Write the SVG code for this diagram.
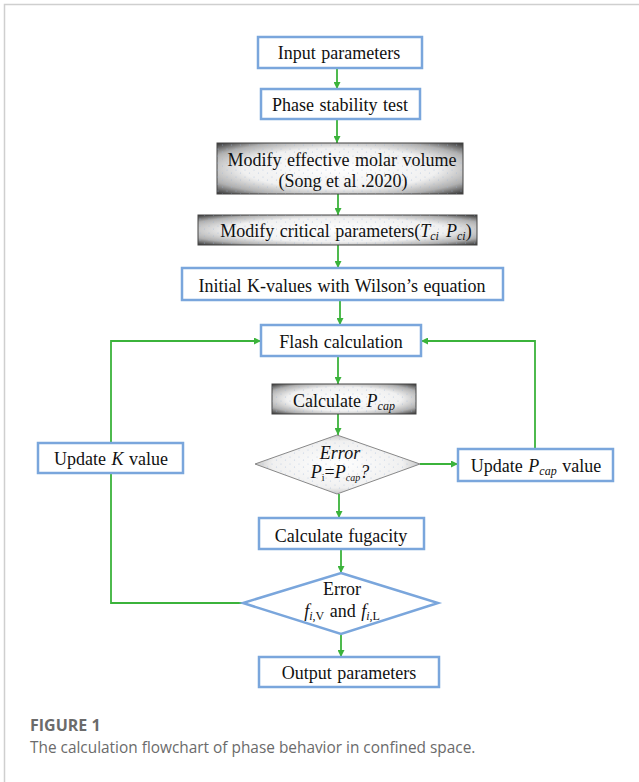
<svg xmlns="http://www.w3.org/2000/svg" width="639" height="782" viewBox="0 0 639 782">
<style>
.box{fill:#fff;stroke:#7aa6dc;stroke-width:2.5}
.gbox{fill:url(#gg);stroke:#444;stroke-width:1}
.t{font-family:"Liberation Serif","Times New Roman",serif;font-size:18px;word-spacing:1px;fill:#111;text-anchor:middle}
.it{font-style:italic}
.c{fill:none;stroke:#3bb33b;stroke-width:1.8}
.cap{font-family:"Open Sans","Noto Sans",sans-serif;fill:#6b6b6b}
</style>
<defs>
<radialGradient id="gg" cx="50%" cy="50%" r="72%">
<stop offset="0" stop-color="#ffffff"/>
<stop offset="0.55" stop-color="#f0f0f0"/>
<stop offset="0.78" stop-color="#b0b0b0"/>
<stop offset="1" stop-color="#262626"/>
</radialGradient>
<pattern id="dots" width="9" height="7" patternUnits="userSpaceOnUse">
<circle cx="2" cy="2" r="0.6" fill="#9bb4d8" opacity="0.6"/>
<circle cx="6.5" cy="5" r="0.6" fill="#9bb4d8" opacity="0.6"/>
</pattern>
<marker id="ah" viewBox="0 0 10 10" refX="10" refY="5" markerWidth="7" markerHeight="7" markerUnits="userSpaceOnUse" orient="auto">
<path d="M0,0L10,5L0,10z" fill="#3bb33b"/>
</marker>
</defs>
<rect x="4.5" y="4.5" width="640" height="790" fill="#fff" stroke="#cfcfcf" stroke-width="1.5"/>

<g id="connectors">
<path class="c" d="M337,68V89" marker-end="url(#ah)"/>
<path class="c" d="M337,119V143" marker-end="url(#ah)"/>
<path class="c" d="M338,194V215" marker-end="url(#ah)"/>
<path class="c" d="M338,245V268" marker-end="url(#ah)"/>
<path class="c" d="M340,300V325" marker-end="url(#ah)"/>
<path class="c" d="M338,356V384" marker-end="url(#ah)"/>
<path class="c" d="M338,414V435" marker-end="url(#ah)"/>
<path class="c" d="M339,494V518" marker-end="url(#ah)"/>
<path class="c" d="M341,549V573" marker-end="url(#ah)"/>
<path class="c" d="M341,634V657" marker-end="url(#ah)"/>
<path class="c" d="M420,464H458" marker-end="url(#ah)"/>
<path class="c" d="M535,449V341H421" marker-end="url(#ah)"/>
<path class="c" d="M243,603H111V473"/>
<path class="c" d="M111,443V341H261" marker-end="url(#ah)"/>
</g>

<g id="input">
<rect class="box" x="258" y="37" width="164" height="31"/>
<text class="t" x="339" y="59">Input parameters</text>
</g>
<g id="stability">
<rect class="box" x="261" y="89" width="159" height="30"/>
<text class="t" x="340" y="111">Phase stability test</text>
</g>
<g id="molar">
<rect class="gbox" x="217" y="143" width="246" height="51"/>
<rect x="217" y="143" width="246" height="51" fill="url(#dots)"/>
<text class="t" x="342" y="166">Modify effective molar volume</text>
<text class="t" x="343" y="187" font-size="13.5" style="word-spacing:0">(Song et al .2020)</text>
</g>
<g id="critical">
<rect class="gbox" x="198" y="215" width="279" height="30"/>
<rect x="198" y="215" width="279" height="30" fill="url(#dots)"/>
<text class="t" x="346" y="237">Modify critical parameters(<tspan class="it">T</tspan><tspan class="it" font-size="12" dy="3">ci</tspan><tspan class="it" dy="-3" dx="7">P</tspan><tspan class="it" font-size="12" dy="3">ci</tspan><tspan dy="-3">)</tspan></text>
</g>
<g id="wilson">
<rect class="box" x="182" y="268" width="321" height="32"/>
<text class="t" x="342" y="292">Initial K-values with Wilson’s equation</text>
</g>
<g id="flash">
<rect class="box" x="261" y="325" width="160" height="31"/>
<text class="t" x="341" y="348">Flash calculation</text>
</g>
<g id="pcap">
<rect class="gbox" x="272" y="384" width="144" height="30"/>
<rect x="272" y="384" width="144" height="30" fill="url(#dots)"/>
<text class="t" x="344" y="407">Calculate <tspan class="it">P</tspan><tspan class="it" font-size="12" dy="3">cap</tspan></text>
</g>
<g id="error1">
<polygon class="gbox" points="337,435 420,464 337,494 255,464" style="stroke:#888"/>
<polygon points="337,435 420,464 337,494 255,464" fill="url(#dots)"/>
<text class="t it" x="340" y="459" font-size="22">Error</text>
<text class="t" x="340" y="478" font-size="15"><tspan class="it">P</tspan><tspan font-size="10" dy="3">i</tspan><tspan dy="-3">=</tspan><tspan class="it">P</tspan><tspan class="it" font-size="10" dy="3">cap</tspan><tspan class="it" dy="-3">?</tspan></text>
</g>
<g id="updatepcap">
<rect class="box" x="458" y="449" width="155" height="32"/>
<text class="t" x="536" y="472">Update <tspan class="it">P</tspan><tspan class="it" font-size="12" dy="3">cap</tspan><tspan dy="-3"> value</tspan></text>
</g>
<g id="updatek">
<rect class="box" x="38" y="443" width="145" height="30"/>
<text class="t" x="111" y="465">Update <tspan class="it">K</tspan> value</text>
</g>
<g id="fugacity">
<rect class="box" x="259" y="518" width="165" height="31"/>
<text class="t" x="341" y="542">Calculate fugacity</text>
</g>
<g id="error2">
<polygon class="box" points="341,573 438,603 341,634 243,603"/>
<text class="t" x="342" y="595">Error</text>
<text class="t" x="342" y="617"><tspan class="it">f</tspan><tspan font-size="12" dy="3"><tspan class="it">i</tspan>,V</tspan><tspan dy="-3"> and </tspan><tspan class="it">f</tspan><tspan font-size="12" dy="3"><tspan class="it">i</tspan>,L</tspan></text>
</g>
<g id="output">
<rect class="box" x="259" y="657" width="180" height="30"/>
<text class="t" x="349" y="679">Output parameters</text>
</g>

<text class="cap" x="30" y="731" font-size="16" font-weight="bold">FIGURE 1</text>
<text class="cap" x="30" y="753" font-size="15.4">The calculation flowchart of phase behavior in confined space.</text>
</svg>
